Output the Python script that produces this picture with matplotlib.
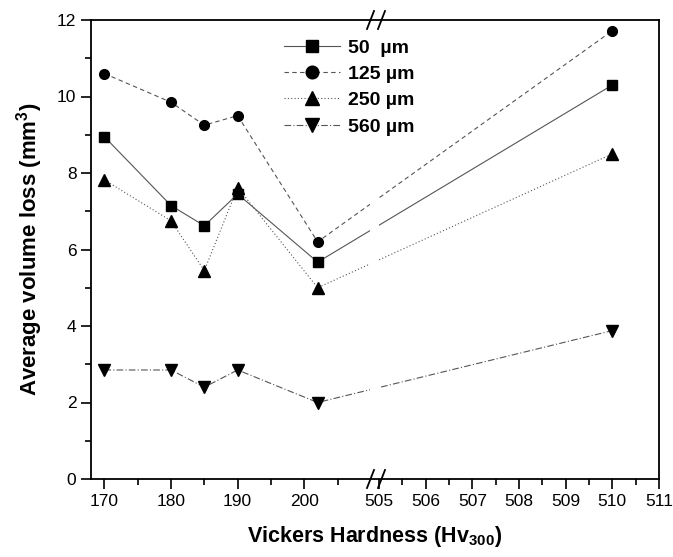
import numpy as np
import matplotlib
matplotlib.use('Agg')
import matplotlib.pyplot as plt
from matplotlib.lines import Line2D

plt.rcParams['font.family'] = ['Liberation Sans', 'DejaVu Sans']
plt.rcParams['mathtext.fontset'] = 'custom'
plt.rcParams['mathtext.rm'] = 'Liberation Sans:bold'
plt.rcParams['mathtext.default'] = 'rm'

# data
hardness = [170, 180, 185, 190, 202, 510]
loss_50 = [8.95, 7.15, 6.62, 7.45, 5.67, 10.3]
loss_125 = [10.6, 9.85, 9.25, 9.5, 6.2, 11.72]
loss_250 = [7.82, 6.75, 5.45, 7.62, 5.0, 8.5]
loss_560 = [2.85, 2.85, 2.4, 2.85, 2.0, 3.88]
labels = ['50  µm', '125 µm', '250 µm', '560 µm']

xticks_major = [170, 180, 190, 200, 505, 506, 507, 508, 509, 510, 511]
xticks_minor = [175, 185, 195, 205, 505.5, 506.5, 507.5, 508.5, 509.5, 510.5]

# broken x axis as a piecewise linear scale
LO, BRK1, BRK2, RSCALE = 168.0, 210.3, 504.87, 7.0


def fwd(x):
    x = np.asarray(x, dtype=float)
    left = x - LO
    right = (BRK1 - LO) + (x - BRK2) * RSCALE
    return np.where(x <= BRK1, left, np.where(x >= BRK2, right, BRK1 - LO))


def inv(u):
    u = np.asarray(u, dtype=float)
    return np.where(u <= BRK1 - LO, u + LO, BRK2 + (u - (BRK1 - LO)) / RSCALE)


fig = plt.figure(figsize=(6.73, 5.57), dpi=100)
ax = fig.add_axes([91 / 673, 1 - 479 / 557, 568 / 673, 459 / 557])
ax.set_xscale('function', functions=(fwd, inv))

lc = '#555555'
ax.plot(hardness, loss_50, color=lc, lw=0.8, ls='-', marker='s', ms=6.5,
        mfc='k', mec='k', label=labels[0], zorder=2)
ax.plot(hardness, loss_125, color=lc, lw=0.8, ls=(0, (4, 3)), marker='o', ms=7,
        mfc='k', mec='k', label=labels[1], zorder=2)
ax.plot(hardness, loss_250, color=lc, lw=0.8, ls=(0, (1, 2)), marker='^', ms=8,
        mfc='k', mec='k', label=labels[2], zorder=2)
ax.plot(hardness, loss_560, color=lc, lw=0.8, ls=(0, (6, 2, 1, 2)), marker='v', ms=8,
        mfc='k', mec='k', label=labels[3], zorder=2)

# gap in the lines at the break
ax.axvspan(209.8, 505.0, color='white', zorder=2.2, lw=0)

ax.set_xlim(168, 511)
ax.set_ylim(0, 12)
ax.set_xticks(xticks_major)
ax.set_xticks(xticks_minor, minor=True)
ax.set_xticklabels([str(t) for t in xticks_major])
ax.set_yticks([0, 2, 4, 6, 8, 10, 12])
ax.set_yticks([1, 3, 5, 7, 9, 11], minor=True)

ax.tick_params(which='both', direction='out', labelsize=12.5, width=1.2,
               top=False, right=False)
ax.tick_params(which='major', length=7)
ax.tick_params(which='minor', length=4)
for s in ax.spines.values():
    s.set_linewidth(1.3)

ax.set_xlabel('Vickers Hardness (Hv$_{300}$)', fontsize=15.5, fontweight='bold',
              labelpad=11)
ax.set_ylabel('Average volume loss (mm$^3$)', fontsize=16, fontweight='bold',
              labelpad=9)

ax.legend(loc='upper left', bbox_to_anchor=(0.322, 0.98), frameon=False,
          prop={'size': 14, 'weight': 'bold'}, handlelength=2.9,
          handletextpad=0.4, labelspacing=0.45, borderpad=0, markerscale=1.3)

# break marks on the top and bottom spines
for py in (20, 479):
    for px in (367, 378):
        fig.add_artist(Line2D([px / 673, (px + 7) / 673],
                              [1 - (py + 9) / 557, 1 - (py - 9) / 557],
                              color='k', lw=1.3))

fig.savefig('out.png', dpi=100)
